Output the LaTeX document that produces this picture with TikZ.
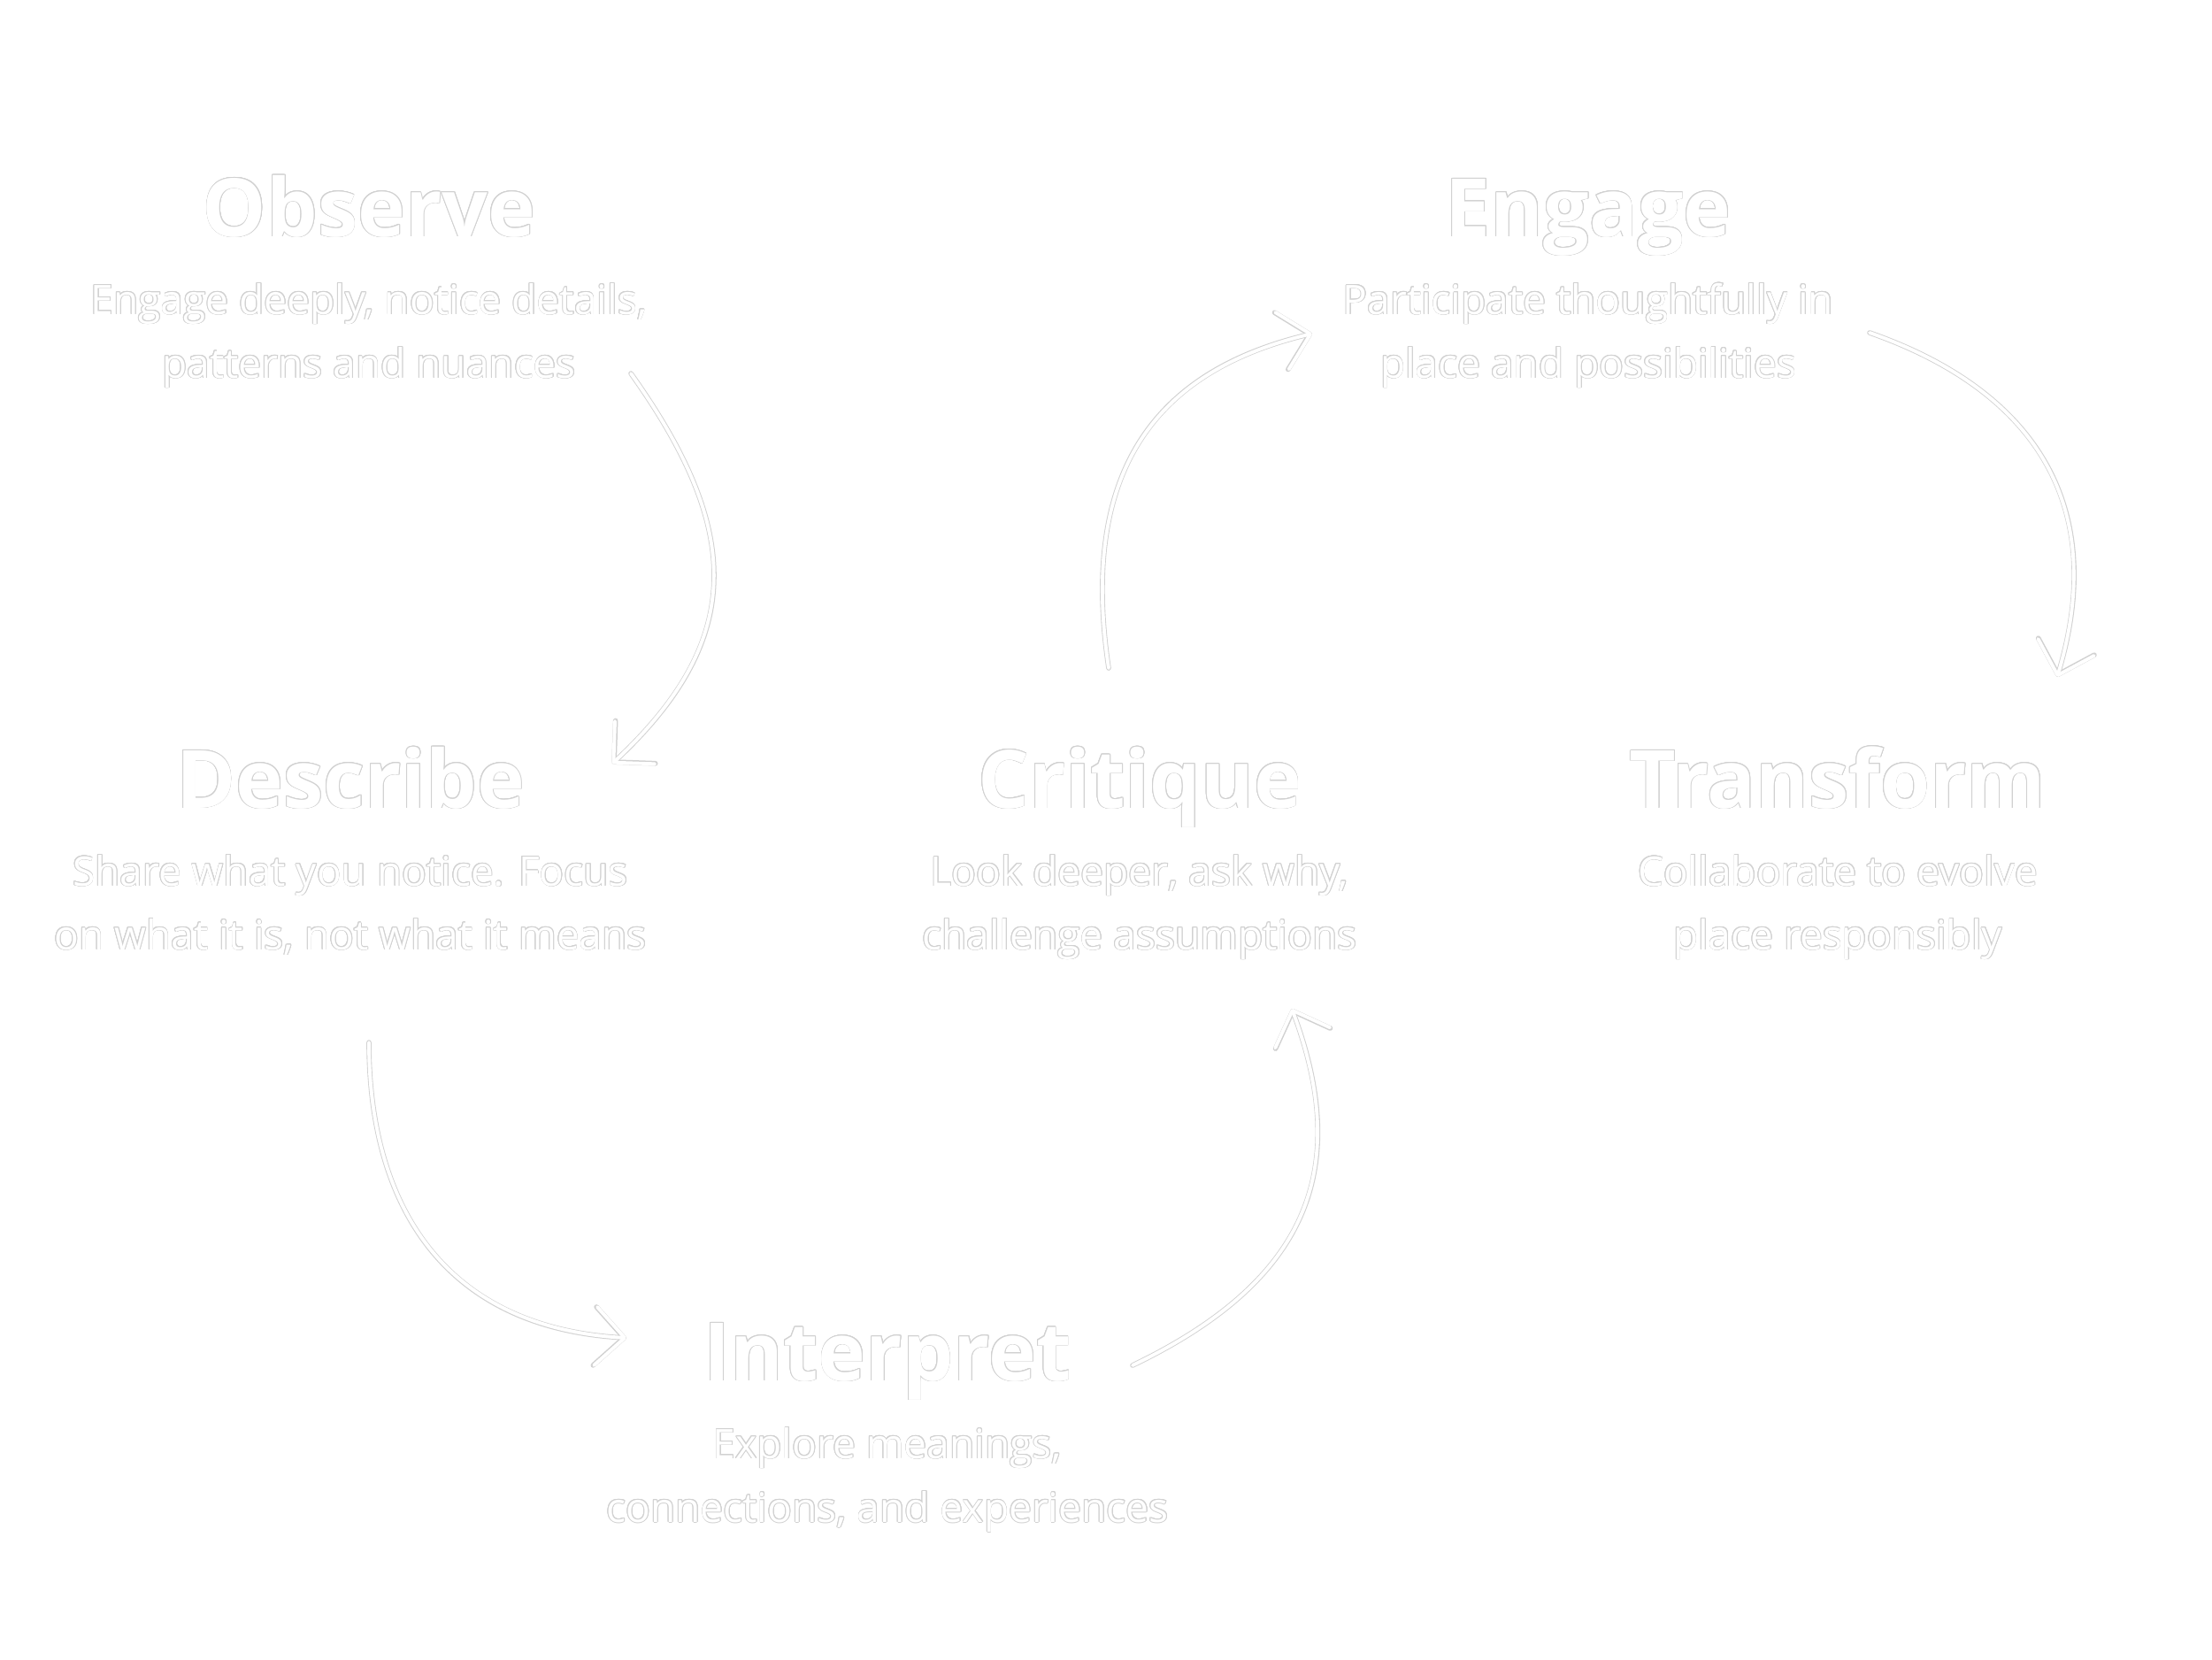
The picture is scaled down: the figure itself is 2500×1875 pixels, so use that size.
\documentclass[tikz,border=0pt]{standalone}
\usepackage{fontspec}
\setmainfont{Open Sans}
\usepackage{contour}
\contourlength{0.25pt}
\usetikzlibrary{positioning,arrows.meta}
\definecolor{halogray}{gray}{0.82}
\newcommand\glow[1]{\contour{halogray}{#1}}
\tikzset{
  stage/.style={text=white, font=\bfseries\fontsize{25.9}{31}\selectfont, inner sep=0pt, anchor=base},
  note/.style={text=white, font=\fontsize{13.1}{20.5}\selectfont, align=center, inner sep=0pt},
  rim/.style={draw=halogray, line width=1.6pt, line cap=round,
    -{Straight Barb[length=3.3mm, width=6.6mm, round]}},
  flow/.style={draw=white, line width=1.1pt, line cap=round,
    -{Straight Barb[length=3.3mm, width=6.6mm, round]}},
}

\begin{document}
\begin{tikzpicture}[x=0.01cm, y=-0.01cm]
  \useasboundingbox (0,0) rectangle (2500,1875);

  % stages
  \node[stage] (observe) at (417,267) {\glow{Observe}};
  \node[note, below=1.6cm of observe.base, anchor=base] (observe-text)
    {\glow{Engage deeply, notice details,}\\\glow{patterns and nuances}};
  \node[stage] (engage) at (1795,267) {\glow{Engage}};
  \node[note, below=1.6cm of engage.base, anchor=base] (engage-text)
    {\glow{Participate thoughtfully in}\\\glow{place and possibilities}};
  \node[stage] (describe) at (396,913) {\glow{Describe}};
  \node[note, below=1.6cm of describe.base, anchor=base] (describe-text)
    {\glow{Share what you notice. Focus}\\\glow{on what it is, not what it means}};
  \node[stage] (critique) at (1288,913) {\glow{Critique}};
  \node[note, below=1.6cm of critique.base, anchor=base] (critique-text)
    {\glow{Look deeper, ask why,}\\\glow{challenge assumptions}};
  \node[stage] (transform) at (2077,913) {\glow{Transform}};
  \node[note, below=1.6cm of transform.base, anchor=base] (transform-text)
    {\glow{Collaborate to evolve}\\\glow{place responsibly}};
  \node[stage] (interpret) at (1003,1560) {\glow{Interpret}};
  \node[note, below=1.6cm of interpret.base, anchor=base] (interpret-text)
    {\glow{Explore meanings,}\\\glow{connections, and experiences}};

  % arrow ends
  \coordinate (observe-out) at (713,422);
  \coordinate (describe-in) at (692,863);
  \coordinate (describe-out) at (417,1178);
  \coordinate (interpret-in) at (708,1512);
  \coordinate (interpret-out) at (1280,1543);
  \coordinate (critique-in) at (1460,1140);
  \coordinate (critique-out) at (1253,755);
  \coordinate (engage-in) at (1483,377);
  \coordinate (engage-out) at (2113,376);
  \coordinate (transform-in) at (2325,765);

  % cycle
  \foreach \s in {rim, flow} {
    \draw[\s] (observe-out) .. controls (840,600) and (842,723) .. (describe-in);
    \draw[\s] (describe-out) .. controls (417,1360) and (500,1500) .. (interpret-in);
    \draw[\s] (interpret-out) .. controls (1480,1447) and (1527,1320) .. (critique-in);
    \draw[\s] (critique-out) .. controls (1220,535) and (1303,420) .. (engage-in);
    \draw[\s] (engage-out) .. controls (2293,439) and (2385,565) .. (transform-in);
  }
\end{tikzpicture}
\end{document}
